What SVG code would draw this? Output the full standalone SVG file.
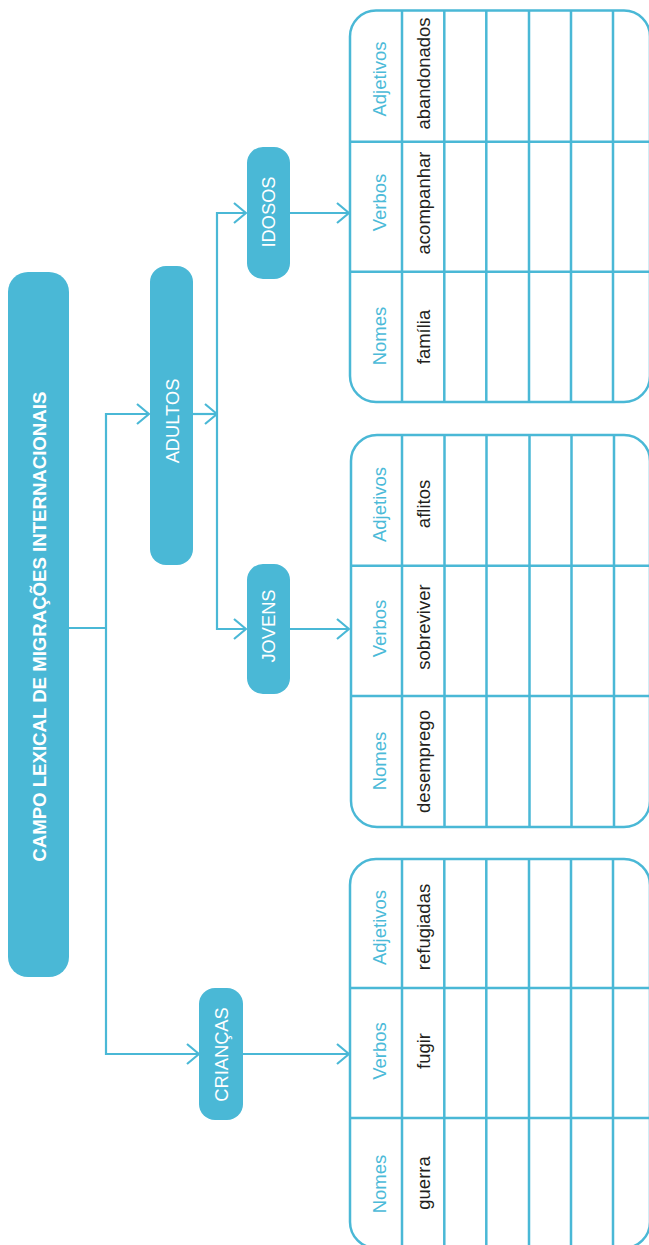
<svg xmlns="http://www.w3.org/2000/svg" width="649" height="1245" viewBox="0 0 649 1245">
<defs>
<style>
.node{fill:#4ab8d6;}
.ntxt{font-family:"Liberation Sans",Arial,sans-serif;font-size:18.3px;fill:#ffffff;text-anchor:middle;}
.title{font-family:"Liberation Sans",Arial,sans-serif;font-size:19px;font-weight:bold;fill:#ffffff;text-anchor:middle;}
.conn{fill:none;stroke:#4ab8d6;stroke-width:2.2;}
.tbl{fill:none;stroke:#4ab8d6;stroke-width:2.5;}
.hdr{font-family:"Liberation Sans",Arial,sans-serif;font-size:18.5px;fill:#4bbad8;text-anchor:middle;}
.dat{font-family:"Liberation Sans",Arial,sans-serif;font-size:18.5px;fill:#231f20;text-anchor:middle;}
</style>
<marker id="arr" viewBox="0 0 14 22" refX="13" refY="11" markerWidth="14" markerHeight="22" orient="auto" markerUnits="userSpaceOnUse">
<path d="M1,1 L13,11 L1,21" fill="none" stroke="#4ab8d6" stroke-width="2.2"/>
</marker>
</defs>
<rect width="649" height="1245" fill="#ffffff"/>

<g id="connectors">
<path class="conn" d="M69,628 H106"/>
<path class="conn" d="M106,628 V414 H149" marker-end="url(#arr)"/>
<path class="conn" d="M106,628 V1054 H199" marker-end="url(#arr)"/>
<path class="conn" d="M193,414 H217" marker-end="url(#arr)"/>
<path class="conn" d="M217,414 V213 H246" marker-end="url(#arr)"/>
<path class="conn" d="M217,414 V629 H246" marker-end="url(#arr)"/>
<path class="conn" d="M290,213 H349" marker-end="url(#arr)"/>
<path class="conn" d="M290,629 H349" marker-end="url(#arr)"/>
<path class="conn" d="M243,1054 H349" marker-end="url(#arr)"/>
</g>

<g id="node-main">
<rect class="node" x="8" y="272" width="61" height="705" rx="20"/>
<text class="title" transform="translate(46,626.7) rotate(-90)" textLength="470" lengthAdjust="spacingAndGlyphs">CAMPO LEXICAL DE MIGRAÇÕES INTERNACIONAIS</text>
</g>

<g id="node-adultos">
<rect class="node" x="150" y="266" width="43" height="299" rx="16"/>
<text class="ntxt" transform="translate(178.5,421) rotate(-90)">ADULTOS</text>
</g>

<g id="node-idosos">
<rect class="node" x="247" y="147" width="43" height="132" rx="16"/>
<text class="ntxt" transform="translate(275,212) rotate(-90)">IDOSOS</text>
</g>

<g id="node-jovens">
<rect class="node" x="247" y="564" width="43" height="130" rx="16"/>
<text class="ntxt" transform="translate(275,626) rotate(-90)">JOVENS</text>
</g>

<g id="node-criancas">
<rect class="node" x="199" y="988" width="44" height="132" rx="16"/>
<text class="ntxt" transform="translate(227.5,1054.5) rotate(-90)">CRIANÇAS</text>
</g>

<g id="table-idosos">
<rect class="tbl" x="350" y="10.5" width="300" height="391.5" rx="26"/>
<path class="tbl" d="M402,10.5 V402 M444.3,10.5 V402 M486.3,10.5 V402 M529,10.5 V402 M571,10.5 V402 M613,10.5 V402 M350,141.7 H650 M350,271.7 H650"/>
<text class="hdr" transform="translate(386,79) rotate(-90)">Adjetivos</text>
<text class="hdr" transform="translate(386,202.5) rotate(-90)">Verbos</text>
<text class="hdr" transform="translate(386,336) rotate(-90)">Nomes</text>
<text class="dat" transform="translate(430,73.5) rotate(-90)">abandonados</text>
<text class="dat" transform="translate(430,203) rotate(-90)">acompanhar</text>
<text class="dat" transform="translate(430,337) rotate(-90)">família</text>
</g>

<g id="table-jovens">
<rect class="tbl" x="351" y="435" width="299" height="392" rx="26"/>
<path class="tbl" d="M402,435 V827 M444.5,435 V827 M486.5,435 V827 M529.5,435 V827 M571.5,435 V827 M614,435 V827 M351,565.7 H650 M351,696 H650"/>
<text class="hdr" transform="translate(386,504.5) rotate(-90)">Adjetivos</text>
<text class="hdr" transform="translate(386,628.5) rotate(-90)">Verbos</text>
<text class="hdr" transform="translate(386,761) rotate(-90)">Nomes</text>
<text class="dat" transform="translate(430,504) rotate(-90)">aflitos</text>
<text class="dat" transform="translate(430,627) rotate(-90)">sobreviver</text>
<text class="dat" transform="translate(430,761.5) rotate(-90)">desemprego</text>
</g>

<g id="table-criancas">
<rect class="tbl" x="350" y="859" width="300" height="389" rx="26"/>
<path class="tbl" d="M402,859 V1248 M444.3,859 V1248 M486.3,859 V1248 M529,859 V1248 M571,859 V1248 M613,859 V1248 M350,988 H650 M350,1118 H650"/>
<text class="hdr" transform="translate(386,927.5) rotate(-90)">Adjetivos</text>
<text class="hdr" transform="translate(386,1051) rotate(-90)">Verbos</text>
<text class="hdr" transform="translate(386,1184) rotate(-90)">Nomes</text>
<text class="dat" transform="translate(430,927) rotate(-90)">refugiadas</text>
<text class="dat" transform="translate(430,1051) rotate(-90)">fugir</text>
<text class="dat" transform="translate(430,1183) rotate(-90)">guerra</text>
</g>
</svg>
